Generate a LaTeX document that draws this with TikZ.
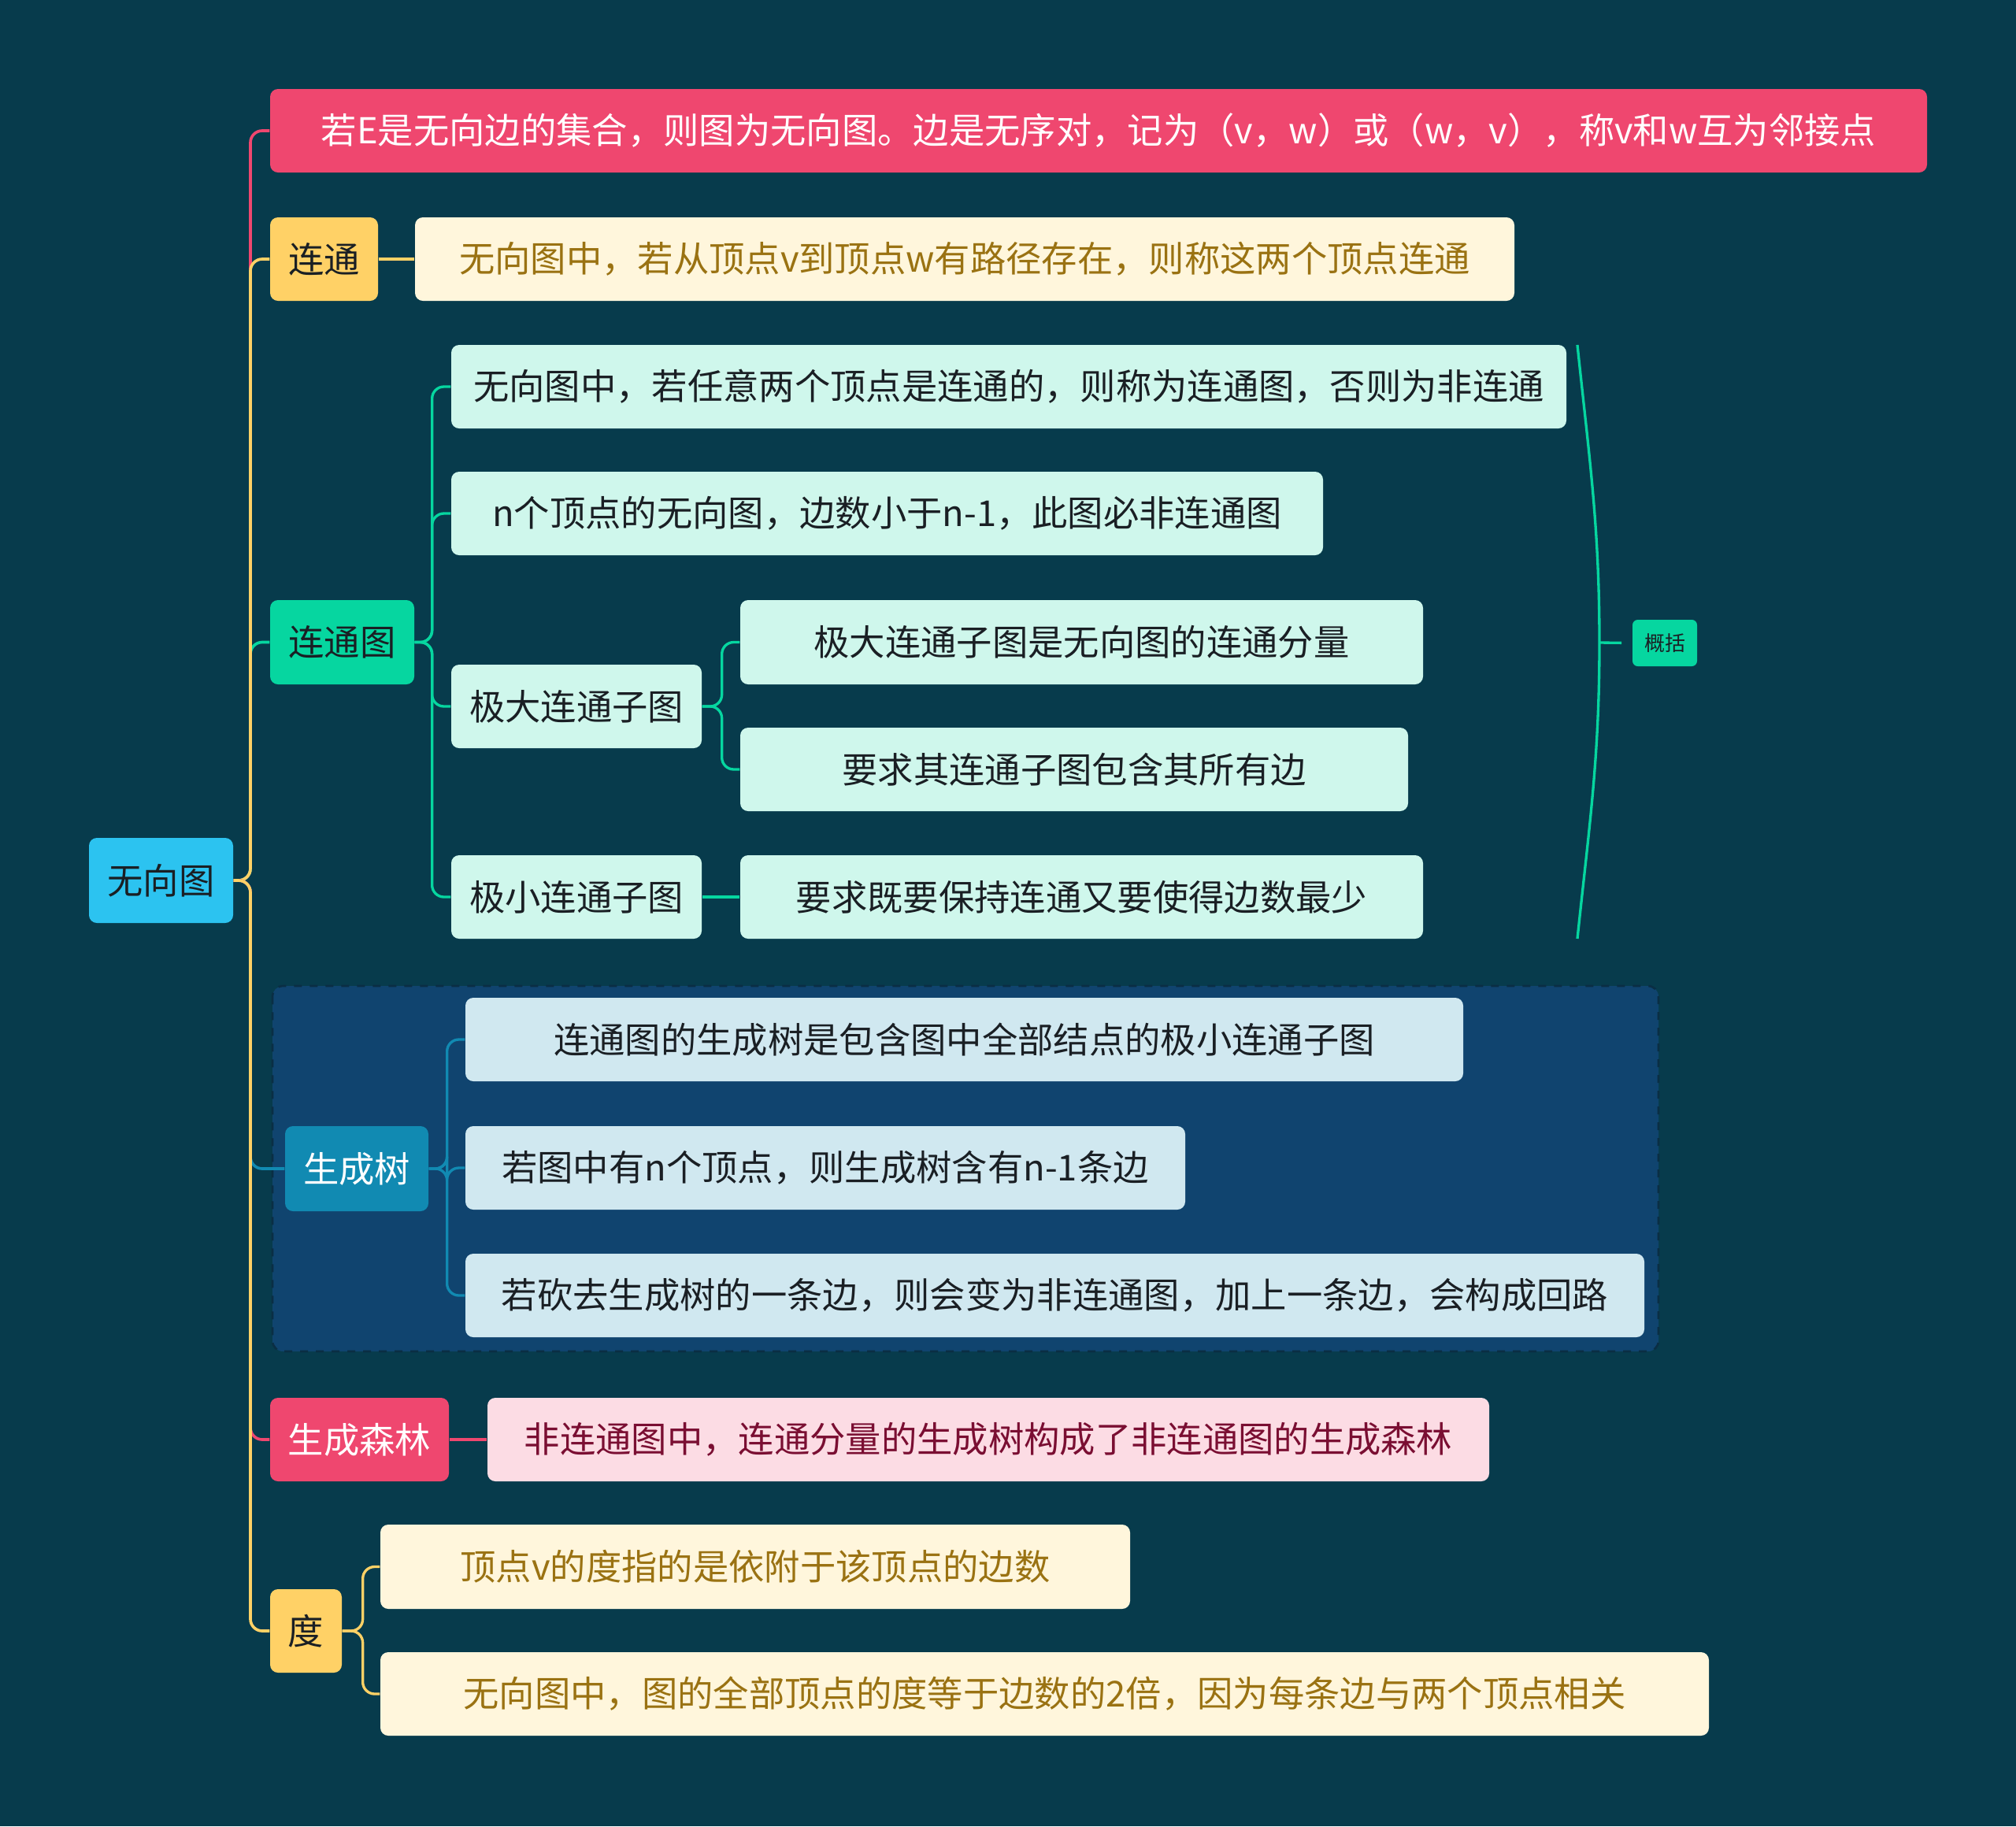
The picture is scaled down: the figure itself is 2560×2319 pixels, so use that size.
\documentclass[tikz,border=0pt]{standalone}
\usepackage{fontspec}
\setmainfont{Noto Sans CJK SC}
\definecolor{bg}{HTML}{073B4C}
\definecolor{cPink}{HTML}{EF476F}
\definecolor{cYel}{HTML}{FFD166}
\definecolor{cGrn}{HTML}{06D6A0}
\definecolor{cBlu}{HTML}{118AB2}
\definecolor{cCyan}{HTML}{2CC3F0}
\definecolor{lMint}{HTML}{CFF7EC}
\definecolor{lCream}{HTML}{FFF6DC}
\definecolor{lPink}{HTML}{FCDCE4}
\definecolor{lBlue}{HTML}{D0E8F0}
\definecolor{tGold}{HTML}{9A7212}
\definecolor{tRed}{HTML}{7A0E32}
\definecolor{tDark}{HTML}{1A1F24}
\definecolor{regionC}{HTML}{10446F}
\definecolor{regionB}{HTML}{0A2E44}
\newcommand\BX[7]{\node[#2, minimum width={(#5-#3)*0.3pt}, minimum height={(#6-#4)*0.3pt}] (#1) at ({(#3+#5)/2},{(#4+#6)/2}) {#7};}
\begin{document}
\begin{tikzpicture}[x=0.3pt,y=-0.3pt,
  box/.style={rectangle, rounded corners=3pt, inner sep=0pt, font=\fontsize{13.6}{16}\selectfont},
  rootbox/.style={box, fill=cCyan, text=tDark},
  pinkbox/.style={box, fill=cPink, text=white},
  yelbox/.style={box, fill=cYel, text=tDark},
  grnbox/.style={box, fill=cGrn, text=tDark},
  blubox/.style={box, fill=cBlu, text=white},
  mintbox/.style={box, fill=lMint, text=tDark},
  creambox/.style={box, fill=lCream, text=tGold},
  lpinkbox/.style={box, fill=lPink, text=tRed},
  lblubox/.style={box, fill=lBlue, text=tDark},
  sumbox/.style={box, rounded corners=2pt, fill=cGrn, text=tDark, font=\fontsize{7.8}{9}\selectfont},
  branch/.style={line width=1.1pt, rounded corners=4.5pt},
  sub/.style={line width=1pt, rounded corners=4.5pt}
]
\fill[bg] (0,0) rectangle (2560,2319);
\useasboundingbox (0,0) rectangle (2560,2319);
% region
\filldraw[fill=regionC, draw=regionB, dashed, line width=0.8pt, rounded corners=4pt] (346,1252) rectangle (2106,1716);
% nodes
\BX{root}{rootbox}{113}{1064}{296}{1172}{无向图}
\BX{top}{pinkbox}{343}{113}{2447}{219}{若E是无向边的集合，则图为无向图。边是无序对，记为（v，w）或（w，v），称v和w互为邻接点}
\BX{lt}{yelbox}{343}{276}{480}{382}{连通}
\BX{ltc}{creambox}{527}{276}{1923}{382}{无向图中，若从顶点v到顶点w有路径存在，则称这两个顶点连通}
\BX{ltt}{grnbox}{343}{762}{526}{869}{连通图}
\BX{c1}{mintbox}{573}{438}{1989}{544}{无向图中，若任意两个顶点是连通的，则称为连通图，否则为非连通}
\BX{c2}{mintbox}{573}{599}{1680}{705}{n个顶点的无向图，边数小于n-1，此图必非连通图}
\BX{jd}{mintbox}{573}{844}{891}{950}{极大连通子图}
\BX{g1}{mintbox}{940}{762}{1807}{869}{极大连通子图是无向图的连通分量}
\BX{g2}{mintbox}{940}{924}{1788}{1030}{要求其连通子图包含其所有边}
\BX{jx}{mintbox}{573}{1086}{891}{1192}{极小连通子图}
\BX{jxc}{mintbox}{940}{1086}{1807}{1192}{要求既要保持连通又要使得边数最少}
\BX{gk}{sumbox}{2073}{787}{2155}{846}{概括}
\BX{sct}{blubox}{362}{1430}{544}{1538}{生成树}
\BX{s1}{lblubox}{591}{1267}{1858}{1373}{连通图的生成树是包含图中全部结点的极小连通子图}
\BX{s2}{lblubox}{591}{1430}{1505}{1536}{若图中有n个顶点，则生成树含有n-1条边}
\BX{s3}{lblubox}{591}{1592}{2088}{1698}{若砍去生成树的一条边，则会变为非连通图，加上一条边，会构成回路}
\BX{sl}{pinkbox}{343}{1775}{570}{1881}{生成森林}
\BX{slc}{lpinkbox}{619}{1775}{1891}{1881}{非连通图中，连通分量的生成树构成了非连通图的生成森林}
\BX{du}{yelbox}{343}{2018}{434}{2124}{度}
\BX{d1}{creambox}{483}{1936}{1435}{2043}{顶点v的度指的是依附于该顶点的边数}
\BX{d2}{creambox}{483}{2098}{2170}{2204}{无向图中，图的全部顶点的度等于边数的2倍，因为每条边与两个顶点相关}
% trunk coordinate
\coordinate (T) at (318,1118);
% main branches
\draw[branch, cPink] (root.east) -- (T) |- (top.west);
\draw[branch, cGrn] (root.east) -- (T) |- (ltt.west);
\draw[branch, cYel] (root.east) -- (T) |- (lt.west);
\draw[branch, cBlu] (root.east) -- (T) |- (sct.west);
\draw[branch, cPink] (root.east) -- (T) |- (sl.west);
\draw[branch, cYel] (root.east) -- (T) |- (du.west);
% sub branches
\draw[sub, cYel] (lt.east) -- (ltc.west);
\draw[sub, cGrn] (ltt.east) -- ++(22,0) |- (c1.west);
\draw[sub, cGrn] (ltt.east) -- ++(22,0) |- (c2.west);
\draw[sub, cGrn] (ltt.east) -- ++(22,0) |- (jd.west);
\draw[sub, cGrn] (ltt.east) -- ++(22,0) |- (jx.west);
\draw[sub, cGrn] (jd.east) -- ++(25,0) |- (g1.west);
\draw[sub, cGrn] (jd.east) -- ++(25,0) |- (g2.west);
\draw[sub, cGrn] (jx.east) -- (jxc.west);
\draw[sub, cBlu] (sct.east) -- ++(23,0) |- (s1.west);
\draw[sub, cBlu] (sct.east) -- ++(23,0) |- (s2.west);
\draw[sub, cBlu] (sct.east) -- ++(23,0) |- (s3.west);
\draw[sub, cPink] (sl.east) -- (slc.west);
\draw[sub, cYel] (du.east) -- ++(26,0) |- (d1.west);
\draw[sub, cYel] (du.east) -- ++(26,0) |- (d2.west);
% summary bracket
\coordinate (bt) at (2003,438);
\coordinate (bm) at (2031,816);
\coordinate (bb) at (2003,1192);
\draw[cGrn, line width=1pt] (bt) to[out=-84,in=90] (bm) to[out=-90,in=84] (bb);
\draw[cGrn, line width=1pt, shorten >=4pt] (bm) -- (gk.west);
\end{tikzpicture}
\end{document}
